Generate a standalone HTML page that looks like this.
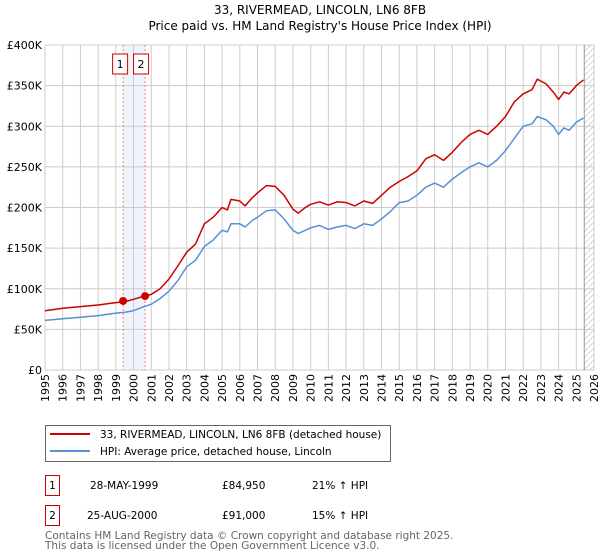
<!DOCTYPE html>
<html><head><meta charset="utf-8"><style>
body{margin:0;background:#fff;font-family:"DejaVu Sans","Liberation Sans",sans-serif;}
svg{display:block}
</style></head><body>
<svg id="c" width="600" height="560" font-family="DejaVu Sans, Liberation Sans, sans-serif">
<text x="320" y="14" font-size="12" text-anchor="middle">33, RIVERMEAD, LINCOLN, LN6 8FB</text>
<text x="320" y="30" font-size="12" text-anchor="middle">Price paid vs. HM Land Registry's House Price Index (HPI)</text>
<g id="plot"></g>
<g>
<rect x="45.5" y="425.5" width="345" height="36" fill="#fff" stroke="#666"/>
<line x1="50" y1="434" x2="90" y2="434" stroke="#cc0000" stroke-width="2"/>
<text x="100" y="438" font-size="10.5">33, RIVERMEAD, LINCOLN, LN6 8FB (detached house)</text>
<line x1="50" y1="451" x2="90" y2="451" stroke="#5b8fd4" stroke-width="2"/>
<text x="100" y="455" font-size="10.5">HPI: Average price, detached house, Lincoln</text>
</g>
<g font-size="10.5">
<rect x="45.5" y="475.5" width="14" height="20" fill="none" stroke="#cc0000"/>
<text x="52.5" y="489" text-anchor="middle">1</text>
<text x="90" y="489">28-MAY-1999</text>
<text x="222" y="489">£84,950</text>
<text x="312" y="489">21% ↑ HPI</text>
</g>
<g font-size="10.5">
<rect x="45.5" y="505.5" width="14" height="20" fill="none" stroke="#cc0000"/>
<text x="52.5" y="519" text-anchor="middle">2</text>
<text x="87" y="519">25-AUG-2000</text>
<text x="222" y="519">£91,000</text>
<text x="312" y="519">15% ↑ HPI</text>
</g>
<text x="45" y="539" font-size="10.5" fill="#666">Contains HM Land Registry data © Crown copyright and database right 2025.</text>
<text x="45" y="549" font-size="10.5" fill="#666">This data is licensed under the Open Government Licence v3.0.</text>
</svg>
<script>
const yearTicks=[1995,1996,1997,1998,1999,2000,2001,2002,2003,2004,2005,2006,2007,2008,2009,2010,2011,2012,2013,2014,2015,2016,2017,2018,2019,2020,2021,2022,2023,2024,2025,2026];
const valueTicks=[0,50000,100000,150000,200000,250000,300000,350000,400000];
const valueTickLabels=["£0","£50K","£100K","£150K","£200K","£250K","£300K","£350K","£400K"];
const dates=[1995,1996,1997,1998,1999,1999.5,2000,2000.6,2001,2001.5,2002,2002.5,2003,2003.5,2004,2004.5,2005,2005.3,2005.5,2006,2006.3,2006.7,2007,2007.5,2008,2008.5,2009,2009.3,2009.7,2010,2010.5,2011,2011.5,2012,2012.5,2013,2013.5,2014,2014.5,2015,2015.5,2016,2016.5,2017,2017.5,2018,2018.5,2019,2019.5,2020,2020.5,2021,2021.5,2022,2022.5,2022.8,2023.3,2023.7,2024,2024.3,2024.6,2025,2025.4];
const hpiValues=[61,63,65,67,70,71,73,78,81,88,97,110,127,135,152,160,172,170,180,180,176,184,188,196,197,186,172,168,172,175,178,173,176,178,174,180,178,186,195,206,208,215,225,230,225,235,243,250,255,250,258,270,285,300,303,312,308,300,290,298,295,305,310];
const propertyValues=[73,76,78,80,83,84,87,91,93,100,112,128,145,155,180,188,200,197,210,208,202,212,218,227,226,215,198,193,200,204,207,203,207,206,202,208,205,215,225,232,238,245,260,265,258,268,280,290,295,290,300,312,330,340,345,358,352,342,333,342,340,350,357];
const saleDates=[1999.41,2000.65];
const salePrices=[84950,91000];
const saleLabels=["1","2"];
const X0=45,X1=594,Y0=370,Y1=45;
const xs=d=>X0+(d-1995)/(2026-1995)*(X1-X0);
const ys=v=>Y0-v/400000*(Y0-Y1);
const NS="http://www.w3.org/2000/svg";
const g=document.getElementById('plot');
function mk(t,a){const e=document.createElementNS(NS,t);for(const k in a)e.setAttribute(k,a[k]);g.appendChild(e);return e;}
const defs=mk('defs',{});
defs.innerHTML='<pattern id="h" width="6" height="6" patternUnits="userSpaceOnUse"><path d="M0,6 L6,0" stroke="#ccc" stroke-width="0.8"/></pattern>';
const hz=mk('rect',{x:xs(2025.45),y:Y1,width:X1-xs(2025.45),height:Y0-Y1,fill:'url(#h)'});


const band=mk('rect',{x:xs(saleDates[0]),y:Y1,width:xs(saleDates[1])-xs(saleDates[0]),height:Y0-Y1,fill:'#eef3fc'});


yearTicks.forEach(y=>{
 const l=mk('line',{x1:xs(y),x2:xs(y),y1:Y1,y2:Y0,stroke:'#ccc','stroke-width':1});
 
 
 const t=mk('text',{x:0,y:0,'font-size':11,'text-anchor':'end',transform:`translate(${xs(y)+4},${Y0+4}) rotate(-90)`});
 t.textContent=y;
 
 
});
valueTicks.forEach((v,i)=>{
 const l=mk('line',{x1:X0,x2:X1,y1:ys(v),y2:ys(v),stroke:'#ccc','stroke-width':1});
 
 
 const t=mk('text',{x:X0-3,y:ys(v)+4,'font-size':11,'text-anchor':'end'});
 t.textContent=valueTickLabels[i];
 
 
});
const vl=mk('line',{x1:xs(2025.45),x2:xs(2025.45),y1:Y1,y2:Y0,stroke:'#999'});


saleDates.forEach((d,i)=>{
 const l=mk('line',{x1:xs(d),x2:xs(d),y1:Y1,y2:Y0,stroke:'#f08080','stroke-dasharray':'2,2'});
 
 
 const bx=xs(d)-(i==0?3:4);
 const r=mk('rect',{x:bx-7.5,y:54,width:15,height:20,fill:'#fff',stroke:'#cc0000'});
 
 
 const t=mk('text',{x:bx,y:68,'font-size':11,'text-anchor':'middle'});
 t.textContent=saleLabels[i];
 
 
});
function path(vals,color,name){
 const p=mk('path',{d:dates.map((d,i)=>(i?'L':'M')+xs(d).toFixed(1)+','+ys(vals[i]*1000).toFixed(1)).join(''),fill:'none',stroke:color,'stroke-width':1.5,'stroke-linejoin':'round'});
 
 
}
path(hpiValues,'#5b8fd4','hpi-line');
path(propertyValues,'#cc0000','property-price-line');
saleDates.forEach((d,i)=>{
 const c=mk('circle',{cx:xs(d),cy:ys(salePrices[i]),r:4,fill:'#cc0000'});
 
 
});
</script>
</body></html>
